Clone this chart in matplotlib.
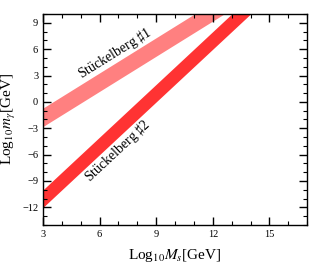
import matplotlib
matplotlib.use("Agg")
import matplotlib.pyplot as plt
import numpy as np

plt.rcParams['font.family'] = ['Liberation Serif', 'DejaVu Serif']
plt.rcParams['mathtext.fontset'] = 'stix'

# band edges: (log10 Ms, log10 m_gamma) at the two ends
ms_1 = [3, 17]
upper_1 = [-0.7, 17.97]
lower_1 = [-2.8, 15.87]

ms_2 = [3, 17]
upper_2 = [-10, 18]
lower_2 = [-12, 16]

xticks = [3, 6, 9, 12, 15]
yticks = [-12, -9, -6, -3, 0, 3, 6, 9]

fig = plt.figure(figsize=(3.14, 2.64), dpi=100)
ax = fig.add_axes([0.137, 0.148, 0.841, 0.799])

ax.fill_between(ms_1, lower_1, upper_1, color='#ff8080', lw=0)
ax.fill_between(ms_2, lower_2, upper_2, color='#ff3333', lw=0)

ax.set_xlim(3, 17)
ax.set_ylim(-14, 10)
ax.set_xticks(xticks)
ax.set_yticks(yticks)
ax.set_yticklabels([str(v).replace('-', '\u2212') for v in yticks])
ax.set_xticks(np.arange(3, 18, 1), minor=True)
ax.set_yticks(np.arange(-14, 11, 1), minor=True)
ax.tick_params(which='both', direction='in', top=True, right=True, labelsize=7.5)
ax.tick_params(which='major', length=6, width=1)
ax.tick_params(which='minor', length=3, width=0.8)
for s in ax.spines.values():
    s.set_linewidth(1)

ax.set_xlabel(r'Log$_{10}M_s$[GeV]', fontsize=11, labelpad=6)
ax.set_ylabel(r'Log$_{10}m_\gamma$[GeV]', fontsize=11, labelpad=3)

# rotate labels to follow the bands on screen
def angle(slope):
    p1 = ax.transData.transform((0, 0))
    p2 = ax.transData.transform((1, slope))
    return np.degrees(np.arctan2(p2[1] - p1[1], p2[0] - p1[0]))

ax.text(7.05, 4.7, r'Stückelberg $\sharp$1', fontsize=10, rotation=angle(4 / 3),
        rotation_mode='anchor', ha='center', va='bottom')
ax.text(6.65, -4.8, r'Stückelberg $\sharp$2', fontsize=10, rotation=angle(2),
        rotation_mode='anchor', ha='center', va='top')

fig.savefig('out.png', dpi=100)
